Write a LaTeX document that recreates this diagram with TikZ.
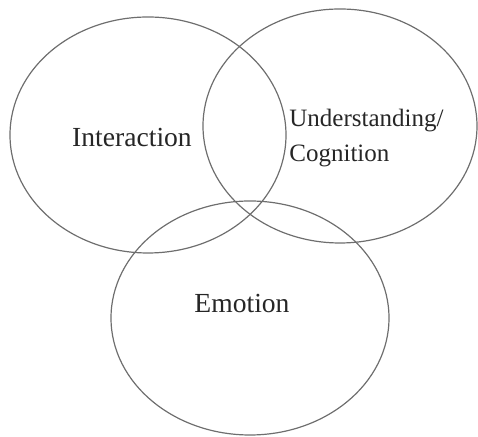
\documentclass[tikz,border=0pt]{standalone}
\usepackage{fontspec}
\setmainfont{Liberation Serif}
\usepackage{xcolor}
\usepackage{tikz}
\usetikzlibrary{positioning}
\definecolor{ringgray}{HTML}{6E6E6E}
\definecolor{labelgray}{HTML}{262626}

\begin{document}
\begin{tikzpicture}[x=0.5pt, y=-0.5pt,
    ring/.style={draw=ringgray, line width=0.6pt},
    area/.style={text=labelgray, font=\fontsize{13.8}{17.5}\selectfont, inner sep=0pt}]
    \useasboundingbox (0,0) rectangle (478,437);
    \coordinate (interC) at (148,135);
    \coordinate (underC) at (340,126);
    \coordinate (emoC) at (250,318);
    \draw[ring] (interC) ellipse [x radius=69pt, y radius=59pt];
    \draw[ring] (underC) ellipse [x radius=68.5pt, y radius=58.5pt];
    \draw[ring] (emoC) ellipse [x radius=69.5pt, y radius=58.5pt];
    \node[area] (inter) at (132,138) {Interaction};
    \node[area, font=\fontsize{12.5}{17.5}\selectfont, align=left, anchor=west] (under) at (289,138) {Understanding/\\Cognition};
    \node[area] (emo) at (242,304) {Emotion};
  \end{tikzpicture}
\end{document}
